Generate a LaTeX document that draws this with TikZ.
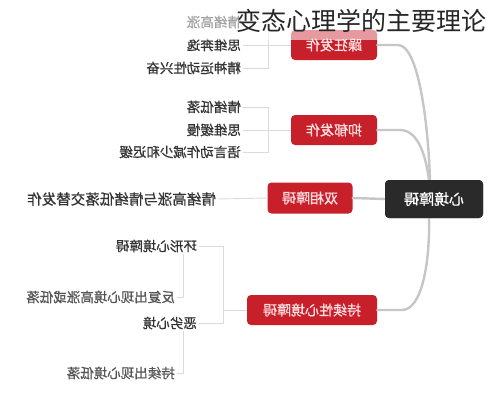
\documentclass[tikz,border=0pt]{standalone}
\usepackage{fontspec}
\usepackage{graphicx}
\newfontfamily\cjk{Noto Sans CJK SC}
\newfontfamily\cjkheavy[FakeBold=0.8]{Noto Sans CJK SC}
\usetikzlibrary{calc}
\definecolor{boxred}{HTML}{C8202B}
\definecolor{boxdark}{HTML}{2A2A2A}
\definecolor{trunkgray}{HTML}{C6C6C6}
\definecolor{twiggray}{HTML}{DADADA}
\definecolor{leaftext}{HTML}{333333}
\definecolor{subtext}{HTML}{555555}
\newcommand{\mirrortext}[1]{\reflectbox{#1}}
\begin{document}
\begin{tikzpicture}[x=1pt,y=-1pt,
  redbox/.style={fill=boxred, rounded corners=4pt, text=white!88!red,
    font=\cjkheavy\fontsize{14}{16}\selectfont, minimum height=30pt, inner sep=0pt},
  darkbox/.style={fill=boxdark, rounded corners=4pt, text=white,
    font=\cjkheavy\fontsize{15}{17}\selectfont, minimum width=98pt, minimum height=38pt, inner sep=0pt},
  leaf/.style={anchor=east, text=leaftext, font=\cjkheavy\fontsize{13.5}{15}\selectfont, inner sep=2pt},
  subleaf/.style={leaf, text=subtext},
  trunk/.style={draw=trunkgray, line width=2.4pt, line cap=round},
  twig/.style={draw=twiggray, line width=0.9pt},
]
\useasboundingbox (0,0) rectangle (490,400);

% main boxes
\node[darkbox] (root) at (434,199) {\mirrortext{心境障碍}};
\node[redbox, minimum width=86pt] (zk) at (334,45) {\mirrortext{躁狂发作}};
\node[redbox, minimum width=86pt] (yy) at (334,130) {\mirrortext{抑郁发作}};
\node[redbox, minimum width=85pt, minimum height=31pt] (sx) at (310,198) {\mirrortext{双相障碍}};
\node[redbox, minimum width=130pt] (cx) at (312,310) {\mirrortext{持续性心境障碍}};

% trunk connectors
\draw[trunk] (zk.east) -- (398,45) .. controls (418,45) and (428,120) .. ($(root.north)+(-4,0)$);
\draw[trunk] (yy.east) -- (400,130) .. controls (416,130) and (425,150) .. ($(root.north)+(-5,0)$);
\draw[trunk] (sx.east) -- (root.west);
\draw[trunk] (cx.east) -- (402,310) .. controls (422,310) and (430,262) .. ($(root.south)+(-5,0)$);
% root drawn again over the trunk ends
\node[darkbox] at (root.center) {\mirrortext{心境障碍}};

% 躁狂发作 leaves
\node[leaf] (z1) at (243,22) {\mirrortext{情绪高涨}};
\node[leaf] (z2) at (243,45) {\mirrortext{思维奔逸}};
\node[leaf] (z3) at (243,68) {\mirrortext{精神运动性兴奋}};
\coordinate (zb) at (268,45);
\draw[twig] (zk.west) -- (zb);
\draw[twig] (z1.east) -| (zb);
\draw[twig] (z3.east) -| (zb);
\draw[twig] (z2.east) -- (zb);

% 抑郁发作 leaves
\node[leaf] (y1) at (243,107) {\mirrortext{情绪低落}};
\node[leaf] (y2) at (243,130) {\mirrortext{思维缓慢}};
\node[leaf] (y3) at (243,152) {\mirrortext{语言动作减少和迟缓}};
\coordinate (yb) at (268,130);
\draw[twig] (yy.west) -- (yb);
\draw[twig] (y1.east) -| (yb);
\draw[twig] (y3.east) -| (yb);
\draw[twig] (y2.east) -- (yb);

% 双相障碍 leaf
\node[leaf, font=\cjkheavy\fontsize{14.5}{16}\selectfont] (s1) at (218,199) {\mirrortext{情绪高涨与情绪低落交替发作}};
\draw[twig] (s1.east) -- (sx.west);

% 持续性心境障碍 leaves
\node[leaf] (c1) at (199,246) {\mirrortext{环形心境障碍}};
\node[leaf] (c2) at (199,323) {\mirrortext{恶劣心境}};
\coordinate (cb) at (223,310);
\draw[twig] (cx.west) -- (cb);
\draw[twig] (c1.east) -| (cb);
\draw[twig] (c2.east) -| (cb);

\node[subleaf] (r1) at (177,297) {\mirrortext{反复出现心境高涨或低落}};
\node[subleaf] (r2) at (177,373) {\mirrortext{持续出现心境低落}};
\draw[twig] (c1.south -| 183,0) |- (r1.east);
\draw[twig] (c2.south -| 183,0) |- (r2.east);

% faded top band and title
\fill[white, opacity=0.55] (0,0) rectangle (490,40);
\node[font=\cjk\fontsize{25}{28}\selectfont, text=black!85, inner sep=0pt] (title) at (361,21) {变态心理学的主要理论};
\end{tikzpicture}
\end{document}
